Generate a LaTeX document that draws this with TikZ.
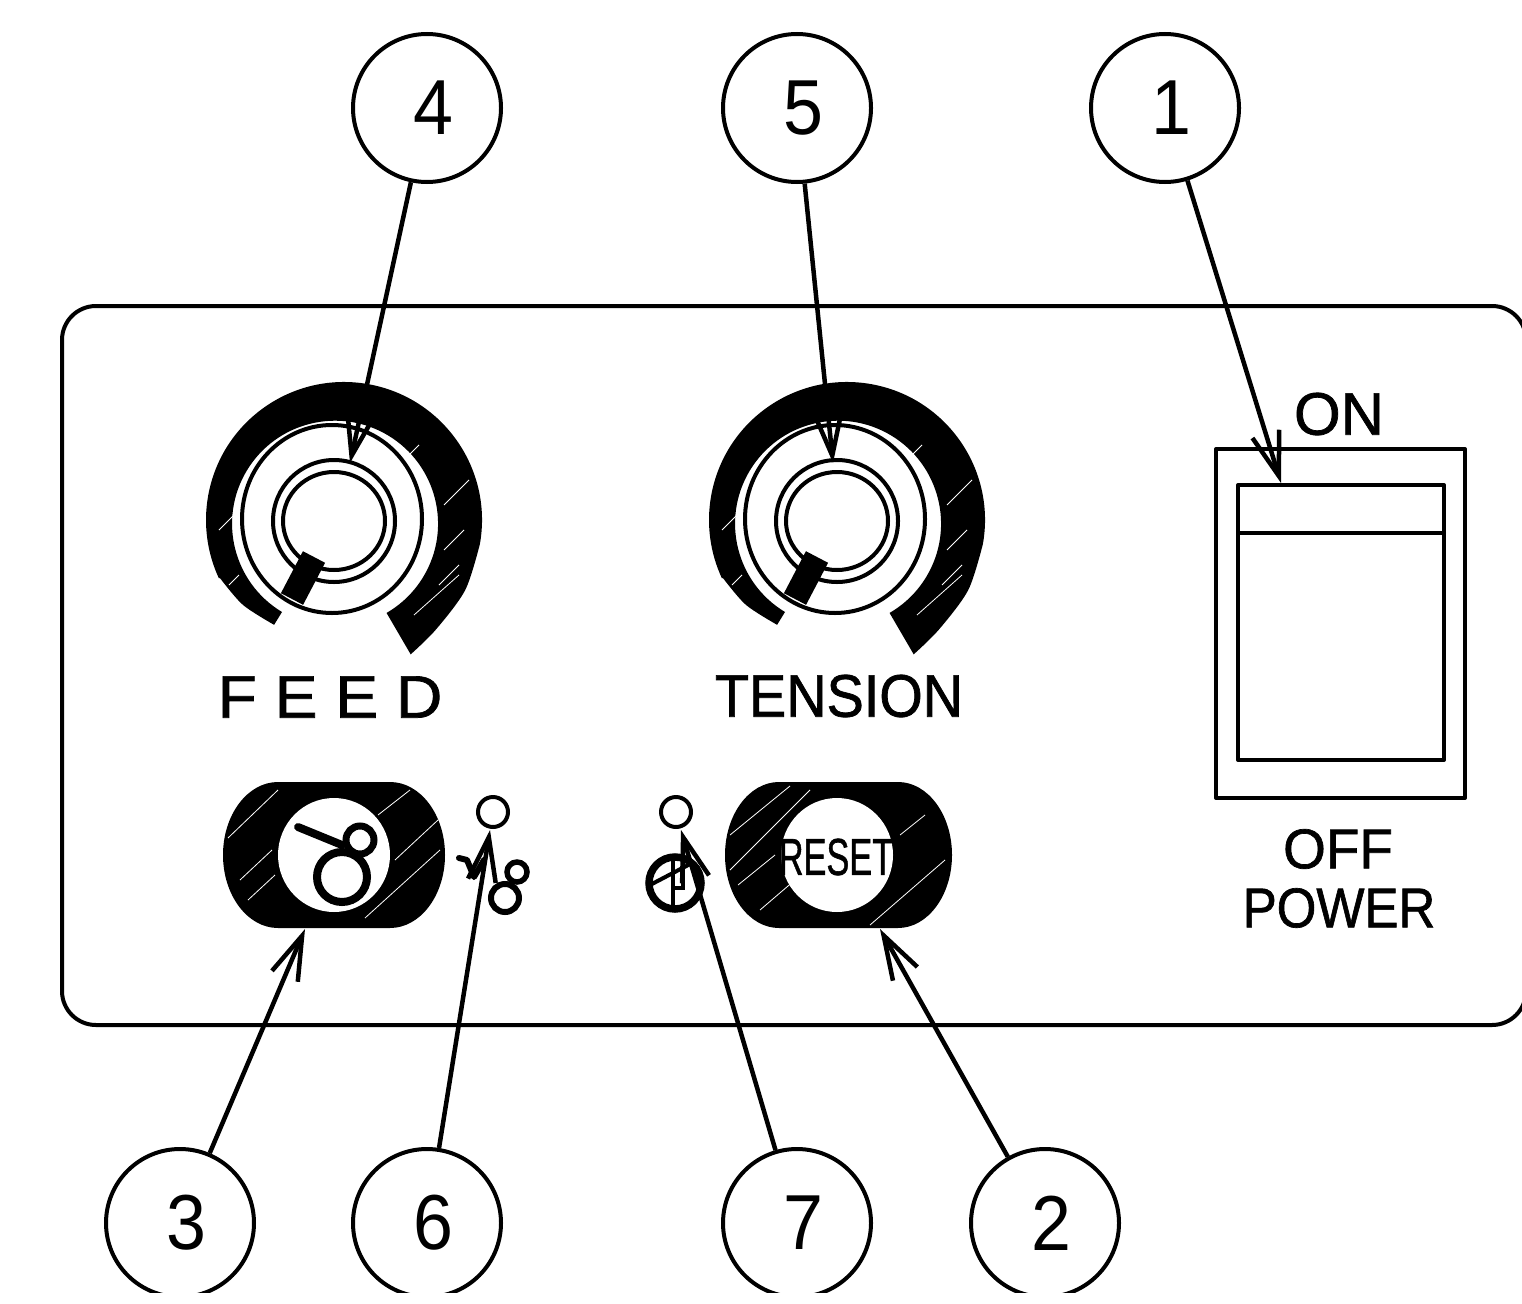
\documentclass[tikz,border=0pt]{standalone}
\usepackage{fontspec}
\setmainfont{Liberation Sans}
\newfontfamily\capfont[FakeBold=1.2]{Liberation Sans}
\usetikzlibrary{arrows.meta}
\tikzset{
  x=1pt,y=-1pt,
  lw/.style={line width=4pt,line join=round,line cap=round},
  callout/.style={circle,draw,line width=4pt,minimum size=148pt,inner sep=0pt,font=\fontsize{78}{80}\selectfont},
  leader/.style={line width=4.5pt,-{Straight Barb[length=44pt,width=28pt,line width=4.5pt]}},
  label/.style={inner sep=0pt,anchor=center,font=\capfont},
  hatchline/.style={white,line width=.8pt},
}
\newcommand{\digit}[1]{\hspace*{13pt}\raisebox{-2pt}{\scalebox{.92}[1]{#1}}}
\newcommand{\knobshape}[2]{%
\begin{scope}[shift={(#1,#2)}]
\fill[line join=round] plot[smooth] coordinates {(63.6:150)(50:143)(30:140)(10:138)}
 arc[start angle=10,end angle=-205,radius=138]
 -- plot[smooth] coordinates {(155:137)(140:132)(123.7:126)}
 -- (-62,92) arc[start angle=121,end angle=420,radius=103] -- cycle;
\foreach \a/\b/\c/\d in {-60/-10/-40/-30,65/-65/75/-75,100/-15/125/-40,100/30/120/10,70/95/115/55,95/65/115/45,-110/-5/-125/10,-105/55/-115/65}
  \draw[hatchline] (\a,\b) -- (\c,\d);
\draw[line width=4pt] (-12,-1) ellipse [x radius=90,y radius=94];
\draw[line width=4pt] (-10,1) circle (61);
\draw[line width=4pt] (-10,1) ellipse [x radius=51,y radius=49];
\draw[line width=25pt,line join=round] (-30,37) -- (-52,79);
\end{scope}}
\newcommand{\buttonshape}[4]{%
\begin{scope}[shift={(0,855)}]
\fill (#1,-73) -- (#2,-73) arc[start angle=-90,end angle=90,x radius=#3,y radius=73] -- (#1,73) arc[start angle=90,end angle=270,x radius=#3,y radius=73] -- cycle;
\fill[white] (#4,0) ellipse [x radius=56,y radius=57];
\end{scope}}
\begin{document}
\begin{tikzpicture}
\useasboundingbox[fill=white] (0,0) rectangle (1522,1303);
% panel
\draw[line width=4pt] (62,340) arc[start angle=180,end angle=270,radius=34] -- (1492,306) arc[start angle=270,end angle=360,radius=34]
 -- (1526,991) arc[start angle=0,end angle=90,radius=34] -- (96,1025) arc[start angle=90,end angle=180,radius=34] -- cycle;
% knobs
\knobshape{344}{520}
\knobshape{847}{520}
\node[label] (feedtxt) at (330,697) {\fontsize{60}{60}\selectfont\scalebox{1.07}[1]{F E E D}};
\node[label] (tentxt) at (839,696) {\fontsize{60}{60}\selectfont\scalebox{.93}[1]{TENSION}};
% left button
\buttonshape{278}{390}{55}{334}
\draw[hatchline] (228,838) -- (278,790);
\draw[hatchline] (240,880) -- (272,850);
\draw[hatchline] (248,900) -- (275,875);
\draw[hatchline] (378,815) -- (410,790);
\draw[hatchline] (395,860) -- (438,820);
\draw[hatchline] (365,918) -- (440,850);
\draw[line width=8pt,line cap=round] (298,827) -- (342,845);
\draw[line width=8pt] (342,877) circle (25);
\draw[line width=7pt] (360,840) circle (14);
% right button
\buttonshape{779}{898}{54}{837}
\draw[hatchline] (730,835) -- (790,786);
\draw[hatchline] (730,870) -- (810,790);
\draw[hatchline] (738,885) -- (775,855);
\draw[hatchline] (760,910) -- (795,880);
\draw[hatchline] (900,835) -- (925,815);
\draw[hatchline] (870,925) -- (945,860);
\node[label] (resettxt) at (836,857) {\fontsize{52}{52}\selectfont\scalebox{.66}[1]{RESET}};
% small icons
\draw[line width=4pt] (493,812) circle (15);
\draw[line width=6pt,line cap=round,line join=round] (459,858) -- (467,860) -- (474,877) -- (484,860);
\draw[line width=6pt] (505,898) circle (14);
\draw[line width=5.5pt] (517,872) circle (10);
\draw[line width=4pt] (676,812) circle (15);
\draw[line width=7.5pt] (675,883) circle (26);
\draw[line width=4pt] (673,855) -- (673,912);
\draw[line width=4pt] (650,885) -- (692,863);
\draw[line width=4pt] (683,865) -- (683,888) -- (672,888);
% switch
\draw[lw] (1216,449) rectangle (1465,798);
\draw[lw] (1238,485) rectangle (1444,760);
\draw[lw] (1238,533) -- (1444,533);
\node[label] (ontxt) at (1339,414) {\fontsize{60}{60}\selectfont ON};
\node[label] (offtxt) at (1338,849) {\fontsize{56}{56}\selectfont\scalebox{.98}[1]{OFF}};
\node[label] (powertxt) at (1339,908) {\fontsize{56}{56}\selectfont\scalebox{.91}[1]{POWER}};
% callouts
\node[callout] (n4) at (427,108) {\digit{4}};
\node[callout] (n5) at (797,108) {\digit{5}};
\node[callout] (n1) at (1165,108) {\digit{1}};
\node[callout] (n3) at (180,1223) {\digit{3}};
\node[callout] (n6) at (427,1223) {\digit{6}};
\node[callout] (n7) at (797,1223) {\digit{7}};
\node[callout] (n2) at (1045,1223) {\digit{2}};
\coordinate (t4) at (350,463);
\coordinate (t5) at (833,463);
\coordinate (t1) at (1281,483);
\coordinate (t3) at (305,929);
\coordinate (t6) at (490,830);
\coordinate (t7) at (681,830);
\coordinate (t2) at (880,929);
\foreach \a/\b in {n4/t4,n5/t5,n1/t1,n3/t3,n6/t6,n7/t7,n2/t2} \draw[leader] (\a) -- (\b);
\fill[white] (0,1293) rectangle (1522,1303);
\end{tikzpicture}
\end{document}
